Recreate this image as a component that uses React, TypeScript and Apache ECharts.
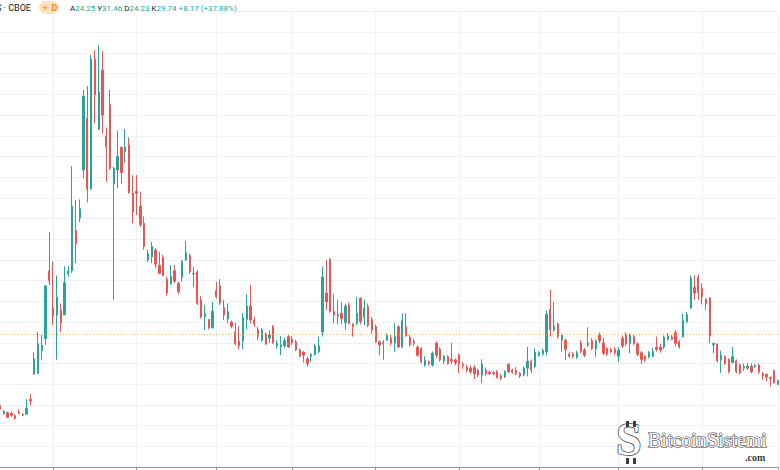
import React, { useEffect, useRef } from "react";
import * as echarts from "echarts";

// Trading days (2020) per month
const FEB = [10, 11, 12, 13, 14, 18, 19, 20, 21, 24, 25, 26, 27, 28];
const MAR = [2, 3, 4, 5, 6, 9, 10, 11, 12, 13, 16, 17, 18, 19, 20, 23, 24, 25, 26, 27, 30, 31];
const APR = [1, 2, 3, 6, 7, 8, 9, 13, 14, 15, 16, 17, 20, 21, 22, 23, 24, 27, 28, 29, 30];
const MAY = [1, 4, 5, 6, 7, 8, 11, 12, 13, 14, 15, 18, 19, 20, 21, 22, 26, 27, 28, 29];
const JUN = [1, 2, 3, 4, 5, 8, 9, 10, 11, 12, 15, 16, 17, 18, 19, 22, 23, 24, 25, 26, 29, 30];
const JUL = [1, 2, 6, 7, 8, 9, 10, 13, 14, 15, 16, 17, 20, 21, 22, 23, 24, 27, 28, 29, 30, 31];
const AUG = [3, 4, 5, 6, 7, 10, 11, 12, 13, 14, 17, 18, 19, 20, 21, 24, 25, 26, 27, 28, 31];
const SEP = [1, 2, 3, 4, 8, 9, 10, 11, 14, 15, 16, 17, 18, 21, 22, 23, 24, 25, 28, 29, 30];
const OCT = [1, 2, 5, 6, 7, 8, 9, 12, 13, 14, 15, 16, 19, 20, 21, 22, 23, 26, 27, 28, 29, 30];
const NOV = [2, 3, 4, 5, 6, 9, 10, 11, 12, 13, 16, 17, 18, 19, 20, 23, 24, 25, 27, 30];
const DEC = [1];

const MONTHS: [number, number[]][] = [
  [2, FEB], [3, MAR], [4, APR], [5, MAY], [6, JUN], [7, JUL],
  [8, AUG], [9, SEP], [10, OCT], [11, NOV], [12, DEC],
];

const opens = [
  15.9, 14.3, 14.5, 14.4, 13.9, 14.6, 14.2, 14.2, 17.1, 22.0, 22.1, 26.5, 28.8, 41.9,
  34.7, 33.4, 34.3, 33.4, 41.3, 41.9, 49.7, 52.1, 61.4, 71.4, 57.7, 82.8, 69.2, 80.7, 68.0, 74.1, 58.7, 61.4, 65.8, 64.9, 66.2, 56.9,
  57.3, 54.4, 51.1, 44.0, 44.6, 45.9, 43.0, 44.5, 40.3, 39.4, 41.9, 39.5, 40.6, 44.0, 44.9, 41.3, 41.7, 36.3, 33.0, 32.5, 30.9,
  38.1, 39.0, 34.8, 32.6, 32.0, 30.1, 28.3, 28.3, 32.5, 35.1, 32.4, 30.5, 28.5, 29.6, 28.9, 31.2, 27.4, 27.2, 27.4, 29.2,
  28.7, 28.2, 26.6, 26.2, 24.9, 25.4, 25.8, 26.3, 30.1, 37.6, 44.1, 34.1, 33.2, 33.7, 31.9, 35.3, 31.6, 31.8, 36.6, 32.9, 35.0, 32.5,
  31.1, 28.2, 27.8, 28.5, 28.9, 28.0, 31.1, 27.2, 31.1, 29.1, 28.3, 27.2, 26.9, 23.7, 24.3, 23.7, 27.9, 26.8, 24.5, 25.3, 24.8, 24.7,
  25.6, 23.8, 23.3, 23.1, 23.2, 22.7, 21.8, 22.7, 22.3, 22.2, 22.4, 21.6, 21.4, 23.8, 22.7, 22.7, 22.1, 21.8, 23.1, 24.4, 23.4,
  25.6, 25.8, 26.3, 34.5, 30.5, 31.6, 28.5, 28.5, 25.8, 25.8, 25.2, 28.0, 26.6, 27.9, 28.4, 26.9, 29.5, 28.0, 26.9, 26.7, 26.7,
  25.4, 28.9, 29.5, 27.9, 29.2, 27.8, 26.1, 25.4, 25.3, 25.4, 27.1, 27.2, 27.2, 28.7, 29.1, 29.95, 28.2, 29.2, 32.1, 34.7, 38.7, 40.7,
  38.5, 36.4, 36.7, 27.6, 27.8, 24.7, 25.3, 24.8, 24.2, 24.5, 23.7, 23.4, 23.1, 23.5, 23.4, 23.7, 22.1, 21.9, 21.3, 22.6,
  20.0,
];

const closes = [
  15.2, 14.7, 13.6, 14.0, 13.4, 14.4, 14.0, 15.3, 16.75, 24.9, 27.8, 27.5, 39.0, 40.0,
  33.2, 36.8, 31.8, 39.6, 41.9, 54.4, 47.2, 53.9, 75.6, 57.7, 82.8, 75.9, 76.5, 72.0, 65.9, 61.7, 61.7, 64.0, 60.9, 65.8, 57.0, 53.3,
  56.9, 50.8, 46.6, 45.3, 46.6, 43.2, 41.4, 41.0, 37.6, 40.8, 39.9, 37.9, 43.7, 45.4, 41.8, 41.4, 35.6, 33.0, 33.6, 30.9, 34.1,
  36.9, 35.7, 33.4, 34.0, 31.2, 27.8, 27.4, 32.9, 35.1, 32.4, 31.6, 29.2, 30.5, 27.8, 29.5, 28.0, 27.9, 27.6, 28.4, 27.2,
  28.0, 26.6, 25.4, 25.6, 24.0, 25.7, 27.4, 27.4, 40.7, 35.9, 34.1, 33.4, 33.5, 32.7, 35.1, 31.8, 31.1, 33.7, 32.1, 34.7, 31.4, 30.5,
  28.2, 27.6, 28.0, 29.4, 27.9, 29.2, 27.2, 32.3, 29.3, 27.6, 27.9, 25.6, 24.3, 24.7, 24.0, 26.0, 25.6, 24.7, 25.4, 24.0, 24.5, 24.2,
  24.0, 23.6, 22.7, 22.4, 22.0, 21.8, 23.9, 22.0, 22.0, 22.0, 21.3, 21.1, 22.4, 22.4, 22.3, 22.0, 21.6, 23.1, 24.4, 22.7, 26.2,
  26.1, 26.5, 33.5, 30.5, 31.2, 29.2, 29.5, 26.7, 25.4, 25.4, 26.1, 26.3, 25.6, 27.6, 26.9, 28.4, 28.4, 26.0, 25.8, 26.3, 26.1,
  26.6, 27.4, 27.8, 29.5, 27.8, 25.8, 24.8, 24.8, 26.1, 26.3, 26.7, 26.6, 29.1, 29.3, 28.7, 27.9, 27.2, 32.3, 33.4, 40.5, 37.6, 37.6,
  36.9, 35.6, 29.3, 27.9, 24.5, 25.6, 24.0, 22.4, 25.3, 22.4, 22.2, 23.1, 23.5, 22.4, 23.6, 22.4, 21.6, 21.4, 21.1, 20.3,
  20.7,
];

const lows = [
  15.0, 14.1, 13.5, 13.7, 13.2, 14.2, 13.8, 14.1, 16.0, 21.8, 22.0, 24.7, 27.6, 39.2,
  31.4, 24.7, 30.1, 33.4, 40.8, 41.5, 43.4, 51.3, 59.8, 55.1, 57.7, 70.4, 69.2, 68.5, 59.1, 61.4, 36.3, 57.9, 58.7, 62.7, 56.8, 51.1,
  52.7, 50.4, 46.0, 43.6, 43.4, 42.4, 41.3, 40.9, 37.1, 39.2, 39.6, 37.4, 39.8, 43.8, 41.3, 38.8, 35.3, 32.7, 30.5, 30.6, 30.8,
  36.6, 35.3, 32.4, 31.8, 30.8, 27.6, 26.7, 26.8, 30.6, 31.8, 31.1, 28.5, 28.2, 27.6, 28.0, 27.8, 26.9, 25.6, 27.0, 27.0,
  27.6, 26.4, 25.2, 24.2, 23.4, 24.3, 25.5, 26.0, 29.2, 34.3, 33.8, 31.8, 31.6, 31.6, 30.5, 31.5, 29.2, 31.4, 31.6, 31.4, 31.0, 29.8,
  28.0, 25.6, 24.7, 28.4, 27.5, 26.3, 27.0, 27.0, 29.2, 27.3, 27.4, 25.3, 24.0, 23.4, 23.6, 23.4, 25.0, 24.4, 23.9, 23.8, 23.9, 23.7,
  22.2, 23.0, 22.3, 22.0, 21.0, 21.4, 20.2, 21.7, 21.8, 21.7, 21.1, 20.8, 21.2, 22.1, 22.0, 21.8, 21.2, 21.5, 21.5, 22.2, 23.1,
  25.3, 25.5, 25.6, 29.2, 30.1, 28.8, 26.3, 24.7, 25.1, 25.0, 24.9, 26.0, 25.2, 27.2, 26.6, 25.3, 27.9, 25.6, 25.5, 26.0, 25.6,
  24.3, 27.0, 27.4, 26.0, 27.5, 25.4, 23.9, 24.2, 25.0, 25.2, 26.3, 26.1, 26.8, 28.4, 28.5, 27.3, 26.9, 29.0, 31.8, 34.7, 36.3, 36.3,
  35.4, 34.3, 27.9, 26.0, 24.2, 22.2, 23.7, 22.1, 24.0, 22.1, 21.9, 22.6, 22.8, 22.1, 23.1, 22.0, 20.9, 20.6, 19.6, 20.1,
  19.8,
];

const highs = [
  16.2, 15.0, 14.7, 14.7, 14.2, 15.1, 14.4, 17.1, 18.1, 26.2, 30.1, 29.5, 39.1, 49.4,
  43.7, 41.0, 35.6, 42.8, 42.8, 62.1, 55.6, 55.7, 76.9, 77.6, 83.6, 84.6, 85.5, 84.4, 69.6, 76.9, 62.0, 69.0, 65.9, 69.3, 67.7, 60.4,
  60.4, 57.2, 52.4, 46.0, 47.5, 46.3, 45.6, 45.0, 40.8, 43.0, 43.0, 39.8, 44.0, 47.7, 45.2, 42.7, 42.1, 37.0, 35.3, 32.6, 35.9,
  39.8, 40.3, 36.3, 35.6, 32.3, 31.8, 31.2, 33.7, 37.4, 39.2, 33.0, 31.1, 30.8, 30.0, 30.4, 31.4, 28.5, 29.3, 29.0, 29.5,
  29.3, 28.6, 26.9, 26.4, 25.3, 26.0, 27.8, 29.2, 42.7, 44.0, 44.4, 37.4, 36.3, 35.9, 35.6, 35.8, 31.8, 36.9, 36.8, 36.3, 35.6, 33.0,
  31.5, 28.5, 28.5, 29.8, 29.6, 31.8, 31.4, 33.7, 33.7, 29.5, 28.8, 27.5, 27.2, 25.4, 24.6, 26.3, 28.3, 27.1, 25.6, 25.6, 28.0, 25.0,
  26.0, 24.3, 23.8, 23.6, 23.7, 23.0, 24.8, 23.2, 22.6, 22.5, 22.7, 22.0, 22.7, 24.1, 23.0, 23.3, 22.4, 23.4, 27.2, 24.8, 26.9,
  26.4, 26.9, 34.3, 38.2, 35.9, 31.9, 29.8, 28.8, 26.3, 26.2, 26.5, 28.5, 27.0, 31.0, 28.9, 28.7, 30.0, 29.0, 27.2, 27.0, 27.2,
  27.2, 29.4, 30.0, 29.8, 29.6, 28.1, 26.4, 25.6, 26.4, 27.0, 29.2, 27.8, 29.4, 29.8, 29.5, 30.5, 28.5, 33.6, 34.0, 41.0, 41.1, 41.2,
  39.5, 36.6, 36.7, 28.0, 27.8, 26.5, 25.6, 25.0, 27.2, 24.8, 24.0, 24.0, 24.1, 24.0, 23.9, 24.0, 22.3, 22.1, 21.5, 22.8,
  20.9,
];

const priceLine = 29.74;
const headerValues: [string, string][] = [
  ["A", "24.25"], ["Y", "31.46"], ["D", "24.23"], ["K", "29.74"],
];
const headerChange = "+8.17 (+37.88%)";

const pad = (n: number) => (n < 10 ? "0" + n : "" + n);
const dates: string[] = MONTHS.flatMap(([m, days]) => days.map((d) => `2020-${pad(m)}-${pad(d)}`));
const monthStart = (i: number) => i > 0 && dates[i].slice(5, 7) !== dates[i - 1].slice(5, 7);

const UP = "#26a69a";
const DOWN = "#ef5350";
const GRID = "#eef1f6";

export default function App() {
  const ref = useRef<HTMLDivElement>(null);
  useEffect(() => {
    if (!ref.current) return;
    const chart = echarts.init(ref.current, null, { renderer: "svg" });
    const data = dates.map((_, i) => [opens[i], closes[i], lows[i], highs[i]]);
    const headerRich =
      headerValues.map(([l, v]) => `{l|${l}}{v|${v}}`).join(" ") + ` {v|${headerChange}}`;
    chart.setOption({
      animation: false,
      backgroundColor: "#ffffff",
      grid: { left: 0, right: 2, top: 11.6, bottom: 3 },
      xAxis: {
        type: "category",
        data: dates,
        boundaryGap: false,
        axisLine: { show: true, lineStyle: { color: "#9598a1", width: 1 } },
        axisTick: { show: true, interval: (i: number) => monthStart(i), length: 3, lineStyle: { color: "#9598a1" } },
        axisLabel: { show: false },
        splitLine: { show: true, interval: (i: number) => monthStart(i), lineStyle: { color: GRID, width: 1 } },
      },
      yAxis: {
        type: "value",
        min: 4,
        max: 92,
        interval: 4,
        axisLine: { show: false },
        axisTick: { show: false },
        axisLabel: { show: false },
        splitLine: { show: true, lineStyle: { color: GRID, width: 1 } },
      },
      series: [
        {
          type: "candlestick",
          data,
          barWidth: 1.8,
          itemStyle: {
            color: UP,
            color0: DOWN,
            borderColor: UP,
            borderColor0: DOWN,
            borderWidth: 1,
          },
          markLine: {
            silent: true,
            symbol: ["none", "none"],
            label: { show: false },
            lineStyle: { color: "#f8b160", type: [1, 2], width: 1, opacity: 0.9 },
            data: [{ yAxis: priceLine }],
          },
        },
      ],
      graphic: [
        { type: "rect", shape: { x: 0, y: 0, width: 236, height: 16 }, style: { fill: "#ffffff" }, z: 10 },
        {
          type: "text", x: -4, y: 3.5, z: 11,
          style: { text: "S · CBOE", fontSize: 9, fontFamily: "Roboto", fill: "#131722" },
        },
        { type: "rect", shape: { x: 39, y: 1, width: 20, height: 13, r: 6.5 }, style: { fill: "#fde3c4" }, z: 11 },
        {
          type: "text", x: 41, y: 3, z: 12,
          style: { text: "☀", fontSize: 9, fontFamily: "DejaVu Sans", fill: "#f59a2e" },
        },
        {
          type: "text", x: 51.5, y: 3.5, z: 12,
          style: { text: "D", fontSize: 9, fontWeight: "bold", fontFamily: "Roboto", fill: "#f08c1c" },
        },
        {
          type: "text", x: 70, y: 4, z: 11,
          style: {
            text: headerRich,
            fontSize: 8,
            fontFamily: "Roboto",
            rich: {
              l: { fontSize: 8, fontFamily: "Roboto", fill: "#131722", color: "#131722" },
              v: { fontSize: 8, fontFamily: "Roboto", fill: UP, color: UP },
            },
          },
        },
        // watermark
        {
          type: "text", x: 616, y: 416, z: 20,
          style: { text: "S", fontSize: 46, fontWeight: "bold", fontFamily: "Liberation Serif", fill: "#ffffff", stroke: "#3c3c3c", lineWidth: 1.5 },
        },
        { type: "rect", shape: { x: 626, y: 421, width: 3, height: 6 }, style: { fill: "#3c3c3c" }, z: 21 },
        { type: "rect", shape: { x: 633, y: 421, width: 3, height: 6 }, style: { fill: "#3c3c3c" }, z: 21 },
        { type: "rect", shape: { x: 626, y: 458, width: 3, height: 6 }, style: { fill: "#3c3c3c" }, z: 21 },
        { type: "rect", shape: { x: 633, y: 458, width: 3, height: 6 }, style: { fill: "#3c3c3c" }, z: 21 },
        {
          type: "text", x: 648, y: 430, z: 20,
          style: { text: "BitcoinSistemi", fontSize: 20, fontFamily: "Liberation Serif", fill: "#ffffff", stroke: "#3c3c3c", lineWidth: 1.2 },
        },
        {
          type: "text", x: 745, y: 452, z: 20,
          style: { text: ".com", fontSize: 10, fontWeight: "bold", fontFamily: "Liberation Serif", fill: "#3c3c3c" },
        },
      ],
    });
    return () => chart.dispose();
  }, []);
  return (
    <div
      ref={ref}
      style={{ position: "fixed", left: 0, top: 0, width: 780, height: 470, background: "#fff" }}
    />
  );
}
